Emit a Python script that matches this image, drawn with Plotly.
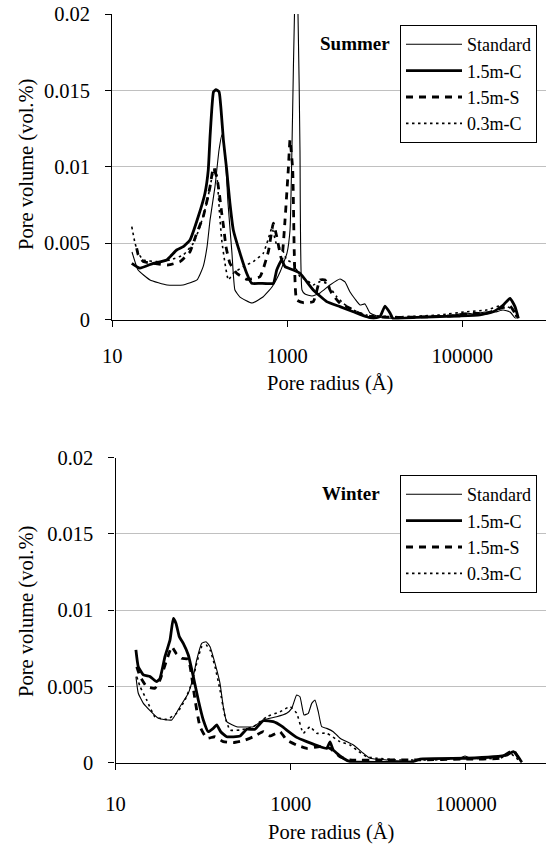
import plotly.graph_objects as go

# ---------------- Summer (top panel) ----------------
s_std_r = [16.8, 19.7, 27.0, 42.2, 64.3, 92.9, 109, 121, 131, 149, 166, 179, 194, 210, 233, 252, 288, 395, 527, 668,
           826, 993, 1074, 1146, 1208, 1257, 1325, 1396, 1472, 1592, 1914, 2366, 3076, 4000, 4563, 5212, 5943, 6776,
           7727, 8810, 10600, 13090, 19400, 32900, 55600, 82600, 107000, 140000, 182000, 237000, 292000, 351000, 400000]
s_std_v = [0.00442, 0.00324, 0.00259, 0.00226, 0.00226, 0.00259, 0.00344, 0.00475, 0.00652, 0.00868, 0.01111, 0.01209,
           0.01091, 0.00763, 0.00436, 0.00193, 0.00147, 0.00108, 0.00147, 0.00213, 0.00311, 0.00436, 0.00586, 0.01307,
           0.0200, 0.0215, 0.0200, 0.0111, 0.00193, 0.00167, 0.00154, 0.00174, 0.00226, 0.00265, 0.00246, 0.0018,
           0.00134, 0.00095, 0.00102, 0.00043, 0.00023, 0.0001, 0.0001, 0.00016, 0.00023, 0.0003, 0.00043, 0.00036,
           0.00049, 0.00049, 0.00062, 0.00049, 0.0001]

s_15c_r = [16.7, 20.7, 29.4, 41.9, 54.4, 64.8, 77.3, 96.1, 114.6, 125, 131, 137, 143.5, 153, 166, 175, 186, 203, 221,
           241.5, 288, 343.5, 392, 487, 692, 757, 863, 942, 1172, 1396, 1982, 2818, 4000, 5675, 8075, 9620, 11460,
           13090, 14930, 16260, 19400, 46700, 94200, 159000, 226000, 294000, 351000, 400000, 437000]
s_15c_v = [0.00368, 0.00336, 0.00368, 0.0039, 0.00455, 0.00477, 0.00521, 0.00674, 0.00827, 0.0098, 0.01198, 0.01373,
           0.01491, 0.01504, 0.01491, 0.01373, 0.01176, 0.0098, 0.00761, 0.00586, 0.00434, 0.00303, 0.00237, 0.00237,
           0.00237, 0.00324, 0.0039, 0.00346, 0.00324, 0.00303, 0.00193, 0.00117, 0.00084, 0.00051, 0.00018, 0.00008,
           0.00018, 0.00088, 0.00043, 0.00003, 0.00008, 0.00018, 0.00023, 0.0003, 0.00051, 0.00095, 0.00139, 0.00084,
           0.00008]

s_15s_r = [19.0, 19.8, 22.6, 29.4, 43.7, 59.4, 77.3, 92.2, 109.6, 131, 142.6, 156, 167, 178, 189, 199, 221, 264, 343.5,
           487, 607, 692, 757, 863, 942, 1026, 1074, 1153, 1202, 1280, 1524, 1982, 2366, 2698, 3214, 4000, 5212, 7390,
           9620, 19400, 72300, 134000, 190000, 270000, 351000, 400000, 419000]
s_15s_v = [0.00467, 0.00423, 0.00379, 0.00368, 0.00357, 0.00379, 0.00444, 0.00565, 0.00674, 0.0087, 0.00991, 0.00936,
           0.00827, 0.00696, 0.00586, 0.00477, 0.00368, 0.00303, 0.00263, 0.0028, 0.00444, 0.0063, 0.00543, 0.0039,
           0.00652, 0.0098, 0.01176, 0.0098, 0.00434, 0.00128, 0.0011, 0.00117, 0.00259, 0.00259, 0.00172, 0.00106,
           0.00073, 0.00029, 0.00018, 0.00014, 0.00023, 0.00041, 0.00041, 0.00073, 0.00088, 0.00041, 0.00008]

s_03c_r = [16.7, 18.2, 19.8, 22.6, 32.2, 45.6, 64.8, 84.3, 100.5, 120, 137, 149, 158.5, 167, 178, 194, 212, 241.5, 314,
           408, 532, 601, 668, 757, 900, 984, 1172, 1396, 1667, 1968, 2366, 2818, 3673, 4365, 5675, 8075, 19400, 55600,
           112000, 190000, 294000, 383000, 419000]
s_03c_v = [0.00608, 0.00499, 0.00434, 0.0039, 0.00379, 0.0039, 0.00423, 0.00499, 0.00608, 0.00761, 0.00925, 0.01001,
           0.00914, 0.00718, 0.00521, 0.00368, 0.00259, 0.00303, 0.00346, 0.00379, 0.00434, 0.00521, 0.006, 0.00488,
           0.00444, 0.0039, 0.00368, 0.0028, 0.00259, 0.00226, 0.00248, 0.00237, 0.00149, 0.00106, 0.00062, 0.00029,
           0.00018, 0.0003, 0.00051, 0.00062, 0.00095, 0.00062, 0.00008]

# ---------------- Winter (bottom panel) ----------------
w_std_r = [17.1, 18.2, 20.8, 30.8, 43.9, 54.5, 67.8, 77.3, 84.5, 96.4, 108, 120, 136.8, 156, 170, 186, 242, 374, 486,
           692, 900, 1026, 1170, 1276, 1419, 1589, 1738, 1892, 2065, 2259, 2576, 3062, 3656, 5190, 6745, 8035, 12470,
           25100, 29900, 85700, 97700, 111400, 245000, 348000, 434000]
w_std_v = [0.00564, 0.00455, 0.00389, 0.00291, 0.0028, 0.00367, 0.00455, 0.00564, 0.00673, 0.00782, 0.00793, 0.0076,
           0.00651, 0.0052, 0.00367, 0.00269, 0.00236, 0.00236, 0.0028, 0.00301, 0.00324, 0.00356, 0.00444, 0.00432,
           0.00313, 0.00324, 0.00389, 0.00411, 0.00334, 0.00236, 0.00225, 0.00203, 0.0016, 0.00116, 0.00062, 0.00029,
           0.00018, 0.00007, 0.00024, 0.00029, 0.00044, 0.00029, 0.00039, 0.00072, 0.00003]

w_15c_r = [17.1, 18.2, 20.8, 24.8, 29.5, 32.2, 36.7, 41.9, 45.7, 49.1, 53.5, 59.4, 67.8, 77.3, 88.1, 100.5, 114.6,
           130.6, 143, 159, 186, 264, 315, 391, 486, 633, 789, 900, 1170, 1524, 2158, 2576, 2812, 3062, 3981, 4754,
           25100, 29900, 102000, 206000, 292000, 348000, 396000, 434000]
w_15c_v = [0.00739, 0.00629, 0.00575, 0.00564, 0.00531, 0.00553, 0.00695, 0.00804, 0.00946, 0.00913, 0.00826, 0.00782,
           0.00706, 0.00564, 0.00411, 0.0028, 0.00203, 0.00225, 0.00247, 0.00203, 0.0017, 0.00175, 0.00219, 0.00219,
           0.00275, 0.00269, 0.0024, 0.00214, 0.00166, 0.00138, 0.00105, 0.00094, 0.00136, 0.00083, 0.00029, 0.00007,
           0.00007, 0.00024, 0.00029, 0.00039, 0.0005, 0.00072, 0.00039, 0.00003]

w_15s_r = [17.5, 19.1, 22.7, 28.2, 32.2, 38.4, 43.9, 49.1, 57, 67.8, 74.1, 80.9, 92.2, 110, 136.8, 170, 221, 288, 374,
           486, 580, 755, 900, 1170, 1524, 2158, 2812, 3656, 4754, 11400, 27400, 102000, 245000, 348000, 415000]
w_15s_v = [0.00629, 0.00564, 0.00498, 0.00488, 0.00542, 0.00673, 0.0076, 0.00717, 0.00684, 0.00678, 0.00564, 0.00411,
           0.00236, 0.0016, 0.0017, 0.00138, 0.00131, 0.00144, 0.0017, 0.00203, 0.00175, 0.00203, 0.00149, 0.00116,
           0.00094, 0.00105, 0.00094, 0.00039, 0.00018, 0.00018, 0.00018, 0.00024, 0.00029, 0.00083, 0.00007]

w_03c_r = [17.5, 19.1, 22.7, 28.2, 38.4, 50, 62.1, 74.1, 84.5, 96.4, 108, 120, 136.8, 156, 178, 203, 264, 374, 532,
           755, 982, 1170, 1393, 1660, 1982, 2576, 3656, 4754, 5662, 7380, 9590, 17700, 42500, 102000, 245000, 318000,
           380000, 434000]
w_03c_v = [0.00564, 0.00498, 0.00411, 0.00301, 0.00284, 0.00324, 0.00411, 0.0052, 0.00651, 0.0076, 0.00771, 0.00739,
           0.00629, 0.00476, 0.00301, 0.00214, 0.00214, 0.00236, 0.00301, 0.00334, 0.00367, 0.00324, 0.00193, 0.00236,
           0.00193, 0.00193, 0.00138, 0.00116, 0.00083, 0.00039, 0.00029, 0.00018, 0.00018, 0.00029, 0.00029, 0.00062,
           0.00029, 0.00003]

series_names = ["Standard", "1.5m-C", "1.5m-S", "0.3m-C"]
x_tickvals = [10, 1000, 100000]
x_ticktext = ["10", "1000", "100000"]
y_tickvals = [0, 0.005, 0.01, 0.015, 0.02]
y_ticktext = ["0", "0.005", "0.01", "0.015", "0.02"]

FONT = "Liberation Serif, Times New Roman, serif"
styles = [
    dict(color="black", width=1.1, dash="solid"),
    dict(color="black", width=2.8, dash="solid"),
    dict(color="black", width=2.8, dash="7px,6px"),
    dict(color="black", width=1.6, dash="2.5px,3.5px"),
]

fig = go.Figure()
summer = [(s_std_r, s_std_v), (s_15c_r, s_15c_v), (s_15s_r, s_15s_v), (s_03c_r, s_03c_v)]
winter = [(w_std_r, w_std_v), (w_15c_r, w_15c_v), (w_15s_r, w_15s_v), (w_03c_r, w_03c_v)]

for (r, v), name, st in zip(summer, series_names, styles):
    fig.add_trace(go.Scatter(x=r, y=v, name=name, mode="lines",
                             line=dict(color=st["color"], width=st["width"], dash=st["dash"],
                                       shape="spline", smoothing=0.4),
                             xaxis="x", yaxis="y", legend="legend"))
for (r, v), name, st in zip(winter, series_names, styles):
    fig.add_trace(go.Scatter(x=r, y=v, name=name, mode="lines",
                             line=dict(color=st["color"], width=st["width"], dash=st["dash"],
                                       shape="spline", smoothing=0.4),
                             xaxis="x2", yaxis="y2", legend="legend2"))

W, H = 546, 845

def xax(domain, rng, standoff, anchor):
    return dict(type="log", domain=domain, range=rng, anchor=anchor,
                tickvals=x_tickvals, ticktext=x_ticktext,
                showgrid=False, zeroline=False, showline=True, linecolor="black", linewidth=1.3,
                ticks="outside", ticklen=6, tickwidth=1.3, tickcolor="black",
                tickfont=dict(family=FONT, size=20.5, color="black"),
                ticklabelstandoff=standoff, automargin=False, fixedrange=True)

def yax(domain, anchor):
    return dict(domain=domain, range=[0, 0.02], anchor=anchor,
                tickvals=y_tickvals, ticktext=y_ticktext,
                showgrid=True, gridcolor="#c0c0c0", gridwidth=1, zeroline=False,
                showline=True, linecolor="black", linewidth=1.3,
                ticks="outside", ticklen=6, tickwidth=1.3, tickcolor="black",
                tickfont=dict(family=FONT, size=20.5, color="black"),
                ticklabelstandoff=11, automargin=False, fixedrange=True)

legend_common = dict(font=dict(family=FONT, size=18, color="black"), bgcolor="white",
                     bordercolor="black", borderwidth=1, xanchor="left", yanchor="top",
                     itemwidth=56, traceorder="normal")

fig.update_layout(
    width=W, height=H, margin=dict(l=0, r=0, t=0, b=0),
    paper_bgcolor="white", plot_bgcolor="white",
    font=dict(family=FONT, size=20.5, color="black"),
    xaxis=xax([112.3 / W, 1], [1, 1 + (W - 112.3) / 87.5], 12, "y"),
    yaxis=yax([(H - 319.5) / H, (H - 14) / H], "x"),
    xaxis2=xax([115.5 / W, 1], [1, 1 + (W - 115.5) / 87.6], 17, "y2"),
    yaxis2=yax([(H - 762.7) / H, (H - 457.5) / H], "x2"),
    legend=dict(x=400 / W, y=1 - 25 / H, **legend_common),
    legend2=dict(x=400 / W, y=1 - 475 / H, **legend_common),
    showlegend=True,
    annotations=[
        dict(text="<b>Summer</b>", x=392 / W, y=1 - 43.5 / H, xref="paper", yref="paper",
             xanchor="right", yanchor="middle", showarrow=False, font=dict(family=FONT, size=19)),
        dict(text="<b>Winter</b>", x=382 / W, y=1 - 493.5 / H, xref="paper", yref="paper",
             xanchor="right", yanchor="middle", showarrow=False, font=dict(family=FONT, size=19)),
        dict(text="Pore radius (Å)", x=330 / W, y=1 - 384 / H, xref="paper", yref="paper",
             xanchor="center", yanchor="middle", showarrow=False, font=dict(family=FONT, size=20.5)),
        dict(text="Pore radius (Å)", x=331 / W, y=1 - 832 / H, xref="paper", yref="paper",
             xanchor="center", yanchor="middle", showarrow=False, font=dict(family=FONT, size=20.5)),
        dict(text="Pore volume (vol.%)", x=26 / W, y=1 - 165 / H, xref="paper", yref="paper",
             xanchor="center", yanchor="middle", textangle=-90, showarrow=False,
             font=dict(family=FONT, size=20.5)),
        dict(text="Pore volume (vol.%)", x=26 / W, y=1 - 612 / H, xref="paper", yref="paper",
             xanchor="center", yanchor="middle", textangle=-90, showarrow=False,
             font=dict(family=FONT, size=20.5)),
    ],
)

fig.write_html("out.html")
